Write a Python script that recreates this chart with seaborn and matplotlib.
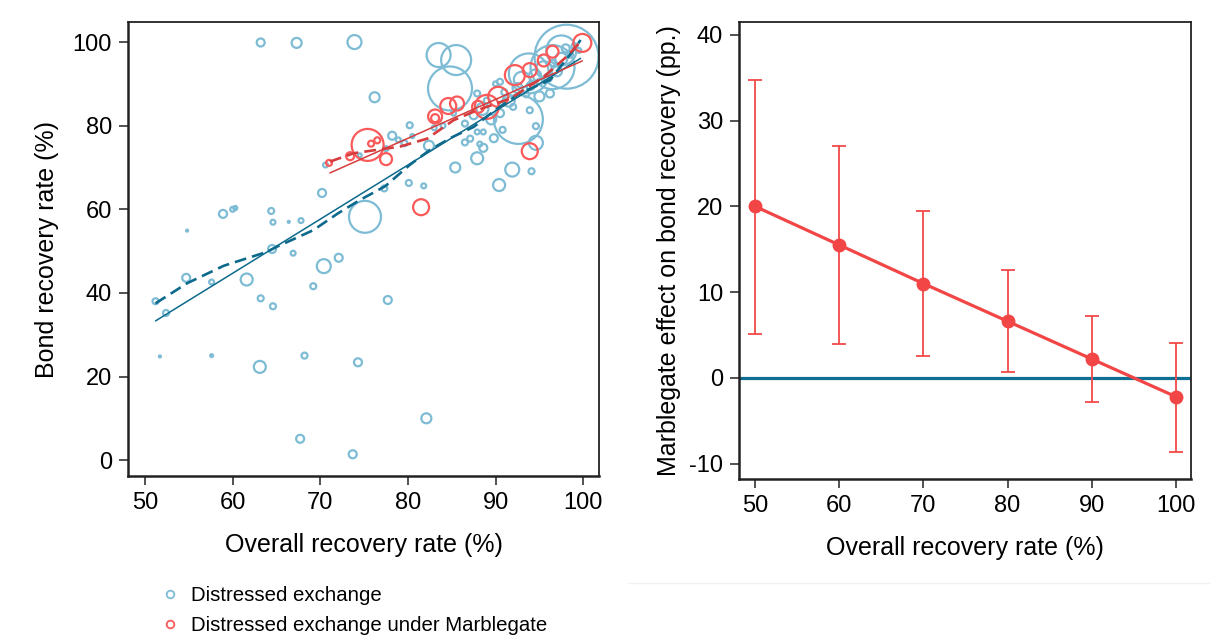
import numpy as np
import pandas as pd
import seaborn as sns
import matplotlib.pyplot as plt
from matplotlib.lines import Line2D

# ---- left panel: deals (overall recovery %, bond recovery %, weight) ----
de_overall = [63.2, 67.3, 73.9, 76.2, 70.6, 74.5, 78.2, 80.2, 78.9, 79.6, 80.5, 80.1, 77.3, 70.2,
              75.1, 58.9, 60.0, 60.3, 64.4, 64.6, 66.4, 67.8, 54.8, 51.2, 52.4, 54.7, 57.6, 61.6,
              64.5, 66.9, 70.4, 72.1, 69.2, 63.2, 64.6, 77.7, 51.7, 57.6, 63.1, 68.2, 74.3, 67.7,
              73.7, 82.1, 83.5, 85.5, 84.8, 82.4, 85.4, 87.9, 88.6, 88.2, 87.1, 87.9, 88.6, 90.4,
              91.9, 94.1, 94.6, 92.6, 94.6, 93.9, 93.8, 98.1, 96.5, 97.5, 87.5, 88.5, 89.0, 89.5,
              90.5, 91.0, 90.0, 91.5, 92.5, 93.0, 94.0, 94.5, 95.0, 95.5, 96.0, 96.5, 97.0, 97.5,
              98.0, 98.5, 99.0, 99.5, 95.0, 93.5, 92.0, 90.8, 89.8, 86.5, 85.2, 84.0, 83.0, 81.8,
              77.5, 87.9, 96.2, 90.5, 86.5]
de_bond = [99.9, 99.8, 100.0, 86.8, 70.6, 72.9, 77.6, 80.1, 76.6, 75.8, 77.5, 66.3, 65.0, 63.9,
           58.2, 58.9, 60.0, 60.3, 59.6, 56.9, 57.0, 57.3, 54.9, 38.0, 35.2, 43.6, 42.6, 43.2,
           50.5, 49.5, 46.4, 48.4, 41.6, 38.7, 36.8, 38.3, 24.8, 25.0, 22.3, 25.0, 23.4, 5.1,
           1.4, 10.0, 96.9, 95.7, 88.9, 75.2, 70.0, 72.2, 74.7, 75.6, 76.9, 78.5, 78.5, 65.8,
           69.5, 69.1, 75.9, 81.5, 79.9, 83.7, 92.5, 96.5, 94.0, 98.0, 82.5, 84.0, 86.0, 81.5,
           83.0, 88.0, 90.0, 86.0, 89.0, 91.0, 89.5, 92.0, 90.5, 93.5, 91.5, 95.0, 93.0, 96.0,
           98.5, 97.0, 99.0, 98.0, 87.0, 87.5, 84.5, 79.0, 77.0, 80.5, 83.0, 80.0, 79.5, 65.6,
           74.5, 87.7, 87.7, 90.5, 76.0]
de_weight = [16, 25, 49, 25, 6, 4, 16, 9, 6, 9, 4, 9, 9, 16,
             256, 16, 6, 4, 9, 6, 1, 6, 1, 9, 9, 16, 6, 36,
             16, 6, 49, 16, 9, 9, 9, 16, 1, 2, 36, 9, 16, 16,
             16, 25, 144, 225, 484, 25, 25, 36, 16, 6, 9, 6, 6, 36,
             49, 9, 49, 600, 9, 9, 400, 1024, 484, 225, 16, 36, 9, 25,
             16, 9, 6, 36, 25, 64, 16, 36, 9, 64, 16, 9, 25, 36,
             16, 9, 9, 6, 25, 9, 9, 9, 16, 9, 6, 6, 6, 6,
             6, 9, 16, 9, 9]

mg_overall = [71.0, 73.4, 75.4, 75.8, 76.5, 77.5, 81.5, 83.1, 83.1, 84.6, 85.6, 89.0, 90.3,
              88.0, 92.2, 93.9, 95.5, 96.5, 99.9, 93.9]
mg_bond = [71.1, 72.7, 75.4, 75.7, 76.5, 72.0, 60.5, 82.2, 81.8, 84.7, 85.3, 84.5, 86.9,
           84.5, 92.1, 93.3, 95.6, 97.7, 99.8, 73.9]
mg_weight = [9, 16, 256, 9, 9, 36, 64, 49, 16, 64, 49, 144, 100,
             36, 100, 49, 36, 36, 81, 64]

# fitted lines (linear) and local fits (dashed)
de_fit_x = [51.2, 99.7]
de_fit_y = [33.3, 96.1]
mg_fit_x = [71.1, 99.9]
mg_fit_y = [68.7, 95.5]
de_smooth_x = [51.2, 54.8, 59.0, 63.9, 65.0, 69.2, 72.0, 74.5, 77.4, 80.2, 82.5, 85.0, 87.5,
               90.0, 92.8, 96.2, 98.9, 99.7]
de_smooth_y = [37.5, 42.3, 46.5, 49.8, 51.0, 55.0, 59.0, 62.2, 65.5, 70.6, 74.2, 77.2, 79.7,
               83.8, 87.8, 90.9, 98.1, 100.5]
mg_smooth_x = [71.1, 73.8, 76.4, 79.1, 82.2, 85.2, 87.9, 91.7, 95.5, 98.1, 99.7]
mg_smooth_y = [71.4, 73.4, 74.2, 75.0, 76.9, 81.3, 83.7, 86.5, 91.7, 96.5, 100.1]

# ---- right panel: marginal effect with 95% CI ----
eff_x = [50, 60, 70, 80, 90, 100]
eff = [20.0, 15.5, 11.0, 6.6, 2.2, -2.2]
eff_lo = [5.1, 4.0, 2.6, 0.7, -2.8, -8.6]
eff_hi = [34.7, 27.0, 19.5, 12.6, 7.2, 4.1]

BLUE = '#7dbcd4'
RED = '#fb5a5a'
DBLUE = '#0d6a8c'
DRED = '#d63c3c'

sns.set_theme(style="ticks")
plt.rcParams['font.family'] = ['Liberation Sans', 'DejaVu Sans']
plt.rcParams['axes.unicode_minus'] = False
plt.rcParams['text.color'] = 'black'
plt.rcParams['axes.labelcolor'] = 'black'

fig = plt.figure(figsize=(12.11, 6.41), dpi=100)
W, H = 1211, 641
ax1 = fig.add_axes([128 / W, 1 - 476 / H, (599 - 128) / W, (476 - 22) / H])
ax2 = fig.add_axes([739 / W, 1 - 479 / H, (1191 - 739) / W, (479 - 22) / H])

de = pd.DataFrame({'overall': de_overall, 'bond': de_bond, 'w': de_weight})
mg = pd.DataFrame({'overall': mg_overall, 'bond': mg_bond, 'w': mg_weight})

for df, c in [(de, BLUE), (mg, RED)]:
    sns.scatterplot(data=df, x='overall', y='bond', size='w', sizes=(0, 2120),
                    size_norm=(0, 1024), color=c, facecolor='none', edgecolor=c,
                    linewidth=1.6, legend=False, ax=ax1, zorder=2)

sns.lineplot(x=de_fit_x, y=de_fit_y, color=DBLUE, lw=1.1, ax=ax1, zorder=3)
sns.lineplot(x=mg_fit_x, y=mg_fit_y, color=DRED, lw=1.1, ax=ax1, zorder=3)
sns.lineplot(x=de_smooth_x, y=de_smooth_y, color=DBLUE, lw=1.9, ax=ax1, zorder=3,
             sort=False).lines[-1].set_dashes((4.5, 2.3))
sns.lineplot(x=mg_smooth_x, y=mg_smooth_y, color=DRED, lw=1.9, ax=ax1, zorder=3,
             sort=False).lines[-1].set_dashes((4.5, 2.3))

ax1.set_xlim(48.06, 101.8)
ax1.set_ylim(-3.8, 104.8)
ax1.set_xticks([50, 60, 70, 80, 90, 100])
ax1.set_yticks([0, 20, 40, 60, 80, 100])
ax1.set_xlabel('Overall recovery rate (%)', fontsize=18, labelpad=14)
ax1.set_ylabel('Bond recovery rate (%)', fontsize=18, labelpad=10)

# right panel
ax2.axhline(0, color='#0f6e94', lw=2.3, zorder=1)
ax2.errorbar(eff_x, eff, yerr=[np.subtract(eff, eff_lo), np.subtract(eff_hi, eff)],
             fmt='none', ecolor='#f24a4a', elinewidth=1.3, capsize=5, capthick=1.3, zorder=2)
sns.lineplot(x=eff_x, y=eff, color='#f24545', lw=2.3, marker='o', markersize=10,
             markeredgewidth=0, ax=ax2, zorder=3)
ax2.set_xlim(48.1, 101.8)
ax2.set_ylim(-11.8, 41.5)
ax2.set_xticks(eff_x)
ax2.set_yticks([-10, 0, 10, 20, 30, 40])
ax2.set_xlabel('Overall recovery rate (%)', fontsize=18, labelpad=14)
ax2.set_ylabel('Marblegate effect on bond recovery (pp.)', fontsize=18, labelpad=6)

for ax in (ax1, ax2):
    ax.tick_params(axis='both', labelsize=17, length=6.5, width=1.1, color='#222222',
                   labelcolor='black', pad=5)
    for side, sp in ax.spines.items():
        sp.set_visible(True)
        sp.set_color('#222222')
        sp.set_linewidth(1.8 if side in ('left', 'bottom') else 1.3)

handles = [Line2D([], [], marker='o', ls='none', mfc='none', mec=BLUE, ms=5.5, mew=1.3,
                  label='Distressed exchange'),
           Line2D([], [], marker='o', ls='none', mfc='none', mec=RED, ms=5.5, mew=1.3,
                  label='Distressed exchange under Marblegate')]
fig.legend(handles=handles, loc='upper left', bbox_to_anchor=(160 / W, 1 - 586 / H),
           frameon=False, fontsize=14.7, handletextpad=0.5, labelspacing=0.55,
           handlelength=1.0, borderaxespad=0, borderpad=0)

fig.add_artist(Line2D([628 / W, 1], [1 - 583 / H, 1 - 583 / H], color='#f2f2f2', lw=1))

fig.savefig('out.png', dpi=100)
